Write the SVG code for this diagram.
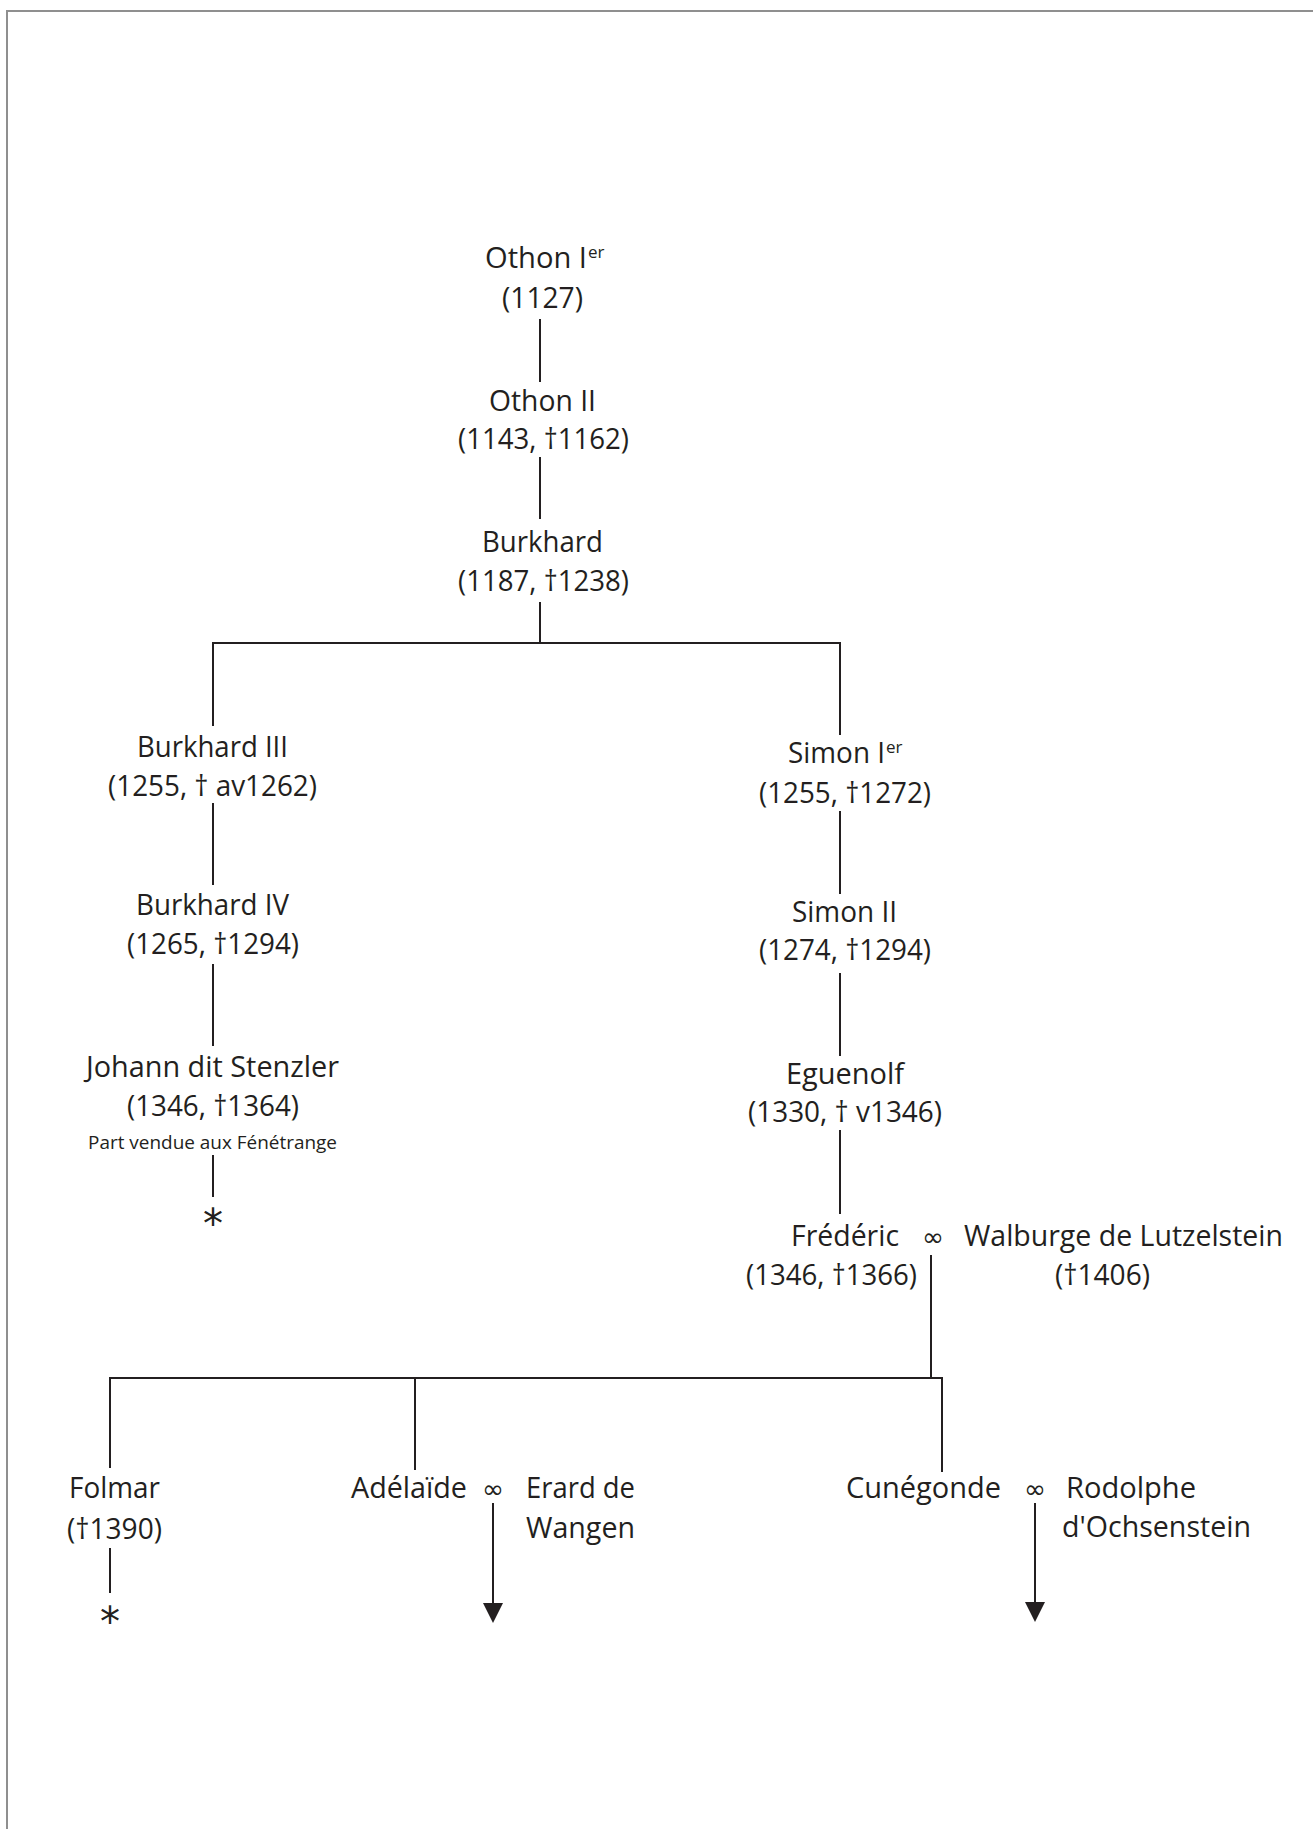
<svg xmlns="http://www.w3.org/2000/svg" width="1313" height="1829" viewBox="0 0 1313 1829">
<style>
.t{font-family:"Open Sans","Noto Sans",sans-serif;font-size:29px;fill:#231f20}
.s{font-family:"Open Sans","Noto Sans",sans-serif;font-size:17px;fill:#231f20}
.p{font-family:"Open Sans","Noto Sans",sans-serif;font-size:18px;fill:#231f20}
.m{font-family:"DejaVu Sans",sans-serif;font-size:26px;fill:#231f20}
.a{font-family:"DejaVu Sans",sans-serif;font-size:40px;fill:#231f20}
.c line,.c path{stroke:#231f20;stroke-width:2;fill:none}
</style>
<defs>
<marker id="arr" markerUnits="userSpaceOnUse" viewBox="0 0 20 20" markerWidth="20" markerHeight="20" refX="0" refY="10" orient="auto">
<path d="M0,0 L20,10 L0,20 z" fill="#231f20"/>
</marker>
</defs>
<rect width="1313" height="1829" fill="#fff"/>
<path d="M7,1829 V11 H1313" stroke="#8f8f8f" stroke-width="2" fill="none"/>

<g class="c" id="connectors">
<line x1="540" y1="319" x2="540" y2="382"/>
<line x1="540" y1="457" x2="540" y2="519"/>
<line x1="540" y1="602" x2="540" y2="643"/>
<path d="M213,726 V643 H840 V735"/>
<line x1="213" y1="803" x2="213" y2="885"/>
<line x1="213" y1="964" x2="213" y2="1046"/>
<line x1="213" y1="1155" x2="213" y2="1197"/>
<line x1="840" y1="811" x2="840" y2="894"/>
<line x1="840" y1="973" x2="840" y2="1056"/>
<line x1="840" y1="1130" x2="840" y2="1214"/>
<line x1="931" y1="1255" x2="931" y2="1378"/>
<path d="M110,1468 V1378 H942 V1472"/>
<line x1="415" y1="1378" x2="415" y2="1470"/>
<line x1="110" y1="1548" x2="110" y2="1593"/>
<line x1="493" y1="1503" x2="493" y2="1603" marker-end="url(#arr)"/>
<line x1="1035" y1="1503" x2="1035" y2="1602" marker-end="url(#arr)"/>
</g>

<g id="othon1"><text class="t" x="485" y="268" textLength="102" lengthAdjust="spacingAndGlyphs">Othon I</text><text class="s" x="588" y="258">er</text><text class="t" x="502" y="308" textLength="81" lengthAdjust="spacingAndGlyphs">(1127)</text></g>
<g id="othon2"><text class="t" x="489" y="411" textLength="107" lengthAdjust="spacingAndGlyphs">Othon II</text><text class="t" x="458" y="449" textLength="171" lengthAdjust="spacingAndGlyphs">(1143, †1162)</text></g>
<g id="burkhard"><text class="t" x="482" y="552" textLength="121" lengthAdjust="spacingAndGlyphs">Burkhard</text><text class="t" x="458" y="591" textLength="171" lengthAdjust="spacingAndGlyphs">(1187, †1238)</text></g>
<g id="burkhard3"><text class="t" x="137" y="757" textLength="151" lengthAdjust="spacingAndGlyphs">Burkhard III</text><text class="t" x="108" y="796" textLength="209" lengthAdjust="spacingAndGlyphs">(1255, † av1262)</text></g>
<g id="burkhard4"><text class="t" x="136" y="915" textLength="153" lengthAdjust="spacingAndGlyphs">Burkhard IV</text><text class="t" x="127" y="954" textLength="172" lengthAdjust="spacingAndGlyphs">(1265, †1294)</text></g>
<g id="johann"><text class="t" x="86" y="1077" textLength="253" lengthAdjust="spacingAndGlyphs">Johann dit Stenzler</text><text class="t" x="127" y="1116" textLength="172" lengthAdjust="spacingAndGlyphs">(1346, †1364)</text><text class="p" x="88" y="1149" textLength="249" lengthAdjust="spacingAndGlyphs">Part vendue aux Fénétrange</text></g>
<g id="end1"><text class="a" x="213" y="1238" text-anchor="middle">*</text></g>
<g id="simon1"><text class="t" x="788" y="763" textLength="97" lengthAdjust="spacingAndGlyphs">Simon I</text><text class="s" x="886" y="753">er</text><text class="t" x="759" y="803" textLength="172" lengthAdjust="spacingAndGlyphs">(1255, †1272)</text></g>
<g id="simon2"><text class="t" x="792" y="922" textLength="105" lengthAdjust="spacingAndGlyphs">Simon II</text><text class="t" x="759" y="960" textLength="172" lengthAdjust="spacingAndGlyphs">(1274, †1294)</text></g>
<g id="eguenolf"><text class="t" x="786" y="1084" textLength="118" lengthAdjust="spacingAndGlyphs">Eguenolf</text><text class="t" x="748" y="1122" textLength="194" lengthAdjust="spacingAndGlyphs">(1330, † v1346)</text></g>
<g id="frederic"><text class="t" x="791" y="1246" textLength="108" lengthAdjust="spacingAndGlyphs">Frédéric</text><text class="t" x="746" y="1285" textLength="171" lengthAdjust="spacingAndGlyphs">(1346, †1366)</text></g>
<g id="marriage1"><text class="m" x="922" y="1246" textLength="22" lengthAdjust="spacingAndGlyphs">∞</text></g>
<g id="walburge"><text class="t" x="964" y="1246" textLength="319" lengthAdjust="spacingAndGlyphs">Walburge de Lutzelstein</text><text class="t" x="1055" y="1285" textLength="95" lengthAdjust="spacingAndGlyphs">(†1406)</text></g>
<g id="folmar"><text class="t" x="69" y="1498" textLength="91" lengthAdjust="spacingAndGlyphs">Folmar</text><text class="t" x="67" y="1539" textLength="95" lengthAdjust="spacingAndGlyphs">(†1390)</text></g>
<g id="end2"><text class="a" x="110" y="1636" text-anchor="middle">*</text></g>
<g id="adelaide"><text class="t" x="351" y="1498" textLength="116" lengthAdjust="spacingAndGlyphs">Adélaïde</text></g>
<g id="marriage2"><text class="m" x="482" y="1498" textLength="22" lengthAdjust="spacingAndGlyphs">∞</text></g>
<g id="erard"><text class="t" x="526" y="1498" textLength="109" lengthAdjust="spacingAndGlyphs">Erard de</text><text class="t" x="526" y="1538" textLength="109" lengthAdjust="spacingAndGlyphs">Wangen</text></g>
<g id="cunegonde"><text class="t" x="846" y="1498" textLength="155" lengthAdjust="spacingAndGlyphs">Cunégonde</text></g>
<g id="marriage3"><text class="m" x="1024" y="1498" textLength="22" lengthAdjust="spacingAndGlyphs">∞</text></g>
<g id="rodolphe"><text class="t" x="1066" y="1498" textLength="130" lengthAdjust="spacingAndGlyphs">Rodolphe</text><text class="t" x="1062" y="1537" textLength="189" lengthAdjust="spacingAndGlyphs">d'Ochsenstein</text></g>
</svg>
